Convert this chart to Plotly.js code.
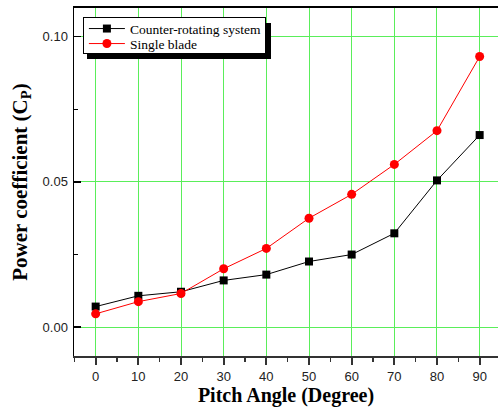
<!DOCTYPE html>
<html>
<head>
<meta charset="utf-8">
<script src="https://cdn.plot.ly/plotly-3.0.1.min.js"></script>
<style>html,body{margin:0;padding:0;background:#fff;overflow:hidden}#chart{width:498px;height:407px}</style>
</head>
<body>
<div id="chart"></div>
<script>
const pitchAngle = [0, 10, 20, 30, 40, 50, 60, 70, 80, 90];
const counterRotating = [0.0071, 0.0108, 0.0122, 0.0161, 0.0181, 0.0226, 0.0250, 0.0323, 0.0505, 0.0661];
const singleBlade = [0.0046, 0.0088, 0.0116, 0.0201, 0.0271, 0.0375, 0.0457, 0.0560, 0.0676, 0.0931];
const seriesNames = ["Counter-rotating system", "Single blade"];

const grid = 'rgb(90,238,90)';
const traces = [
  {x: pitchAngle, y: counterRotating, name: seriesNames[0], type: 'scatter', mode: 'lines+markers',
   line: {color: '#000', width: 1}, marker: {symbol: 'square', size: 8, color: '#000'}},
  {x: pitchAngle, y: singleBlade, name: seriesNames[1], type: 'scatter', mode: 'lines+markers',
   line: {color: '#ff0000', width: 1}, marker: {symbol: 'circle', size: 9, color: '#ff0000'}}
];

const layout = {
  width: 498, height: 407,
  margin: {l: 74, r: 0, t: 8, b: 51, pad: 0},
  paper_bgcolor: '#fff', plot_bgcolor: '#fff',
  showlegend: true,
  legend: {x: 0.021, y: 0.974, xanchor: 'left', yanchor: 'top', bgcolor: '#fff', bordercolor: '#000', borderwidth: 1,
           font: {family: 'Liberation Serif, Times New Roman, serif', size: 13.5, color: '#000'}, tracegroupgap: 0, itemwidth: 36},
  shapes: [
    {type: 'rect', xref: 'paper', yref: 'paper', x0: (87-74)/424, x1: (271-74)/424, y0: (356-59)/348, y1: (356-23)/348,
     fillcolor: '#000', line: {width: 0}, layer: 'above'}
  ],
  xaxis: {
    range: [-5.08, 94.3], tickmode: 'linear', tick0: 0, dtick: 10,
    showgrid: true, gridcolor: grid, gridwidth: 1, zeroline: false,
    showline: true, linecolor: '#333', linewidth: 2, mirror: false,
    ticks: 'outside', ticklen: 7, tickwidth: 2, tickcolor: '#333',
    minor: {dtick: 5, tick0: 0, ticks: 'outside', ticklen: 4, tickwidth: 1.5, tickcolor: '#333', showgrid: false},
    tickfont: {family: 'Liberation Sans, Arial, sans-serif', size: 13, color: '#222'},
    title: {text: 'Pitch Angle (Degree)', standoff: 9, font: {family: 'Liberation Serif, Times New Roman, serif', size: 20, color: '#000', weight: 'bold'}}
  },
  xaxis2: {overlaying: 'x', side: 'top', range: [-5.08, 94.3], showline: true, linecolor: '#000', linewidth: 2,
           showticklabels: false, ticks: '', showgrid: false, zeroline: false},
  yaxis: {
    range: [-0.0099, 0.1098], tickmode: 'linear', tick0: 0, dtick: 0.05, tickformat: '.2f',
    showgrid: true, gridcolor: grid, gridwidth: 1, zeroline: false,
    showline: true, linecolor: '#000', linewidth: 1.5,
    ticks: 'inside', ticklen: 7, tickwidth: 1.5, tickcolor: '#000', ticklabelstandoff: 2,
    minor: {dtick: 0.025, tick0: 0, ticks: 'inside', ticklen: 4, tickwidth: 1, tickcolor: '#000', showgrid: false},
    tickfont: {family: 'Liberation Sans, Arial, sans-serif', size: 13, color: '#222'},
    title: {text: 'Power coefficient (C<sub>P</sub>)', standoff: 9, font: {family: 'Liberation Serif, Times New Roman, serif', size: 21, color: '#000', weight: 'bold'}}
  }
};
// invisible trace to activate the top frame line
traces.push({x: [0], y: [0], xaxis: 'x2', yaxis: 'y', showlegend: false, hoverinfo: 'skip', mode: 'markers', marker: {opacity: 0}});

const gd = document.getElementById('chart');
Plotly.newPlot(gd, traces, layout, {displayModeBar: false, staticPlot: true}).then(function () {
  // tighten legend box to match the compact Origin-style legend
  const leg = gd.querySelector('.legend');
  if (!leg) return;
  const items = leg.querySelectorAll('.traces');
  items.forEach(function (el, i) {
    el.setAttribute('transform', 'translate(1,' + (11.5 + i * 15) + ')');
  });
  const bgW = 182, bgH = 36;
  const bg = leg.querySelector('rect.bg');
  if (bg) { bg.setAttribute('width', bgW); bg.setAttribute('height', bgH); }
  gd.querySelectorAll('defs clipPath rect').forEach(function (r) {
    const p = r.parentNode;
    if (p && p.id && p.id.indexOf('legend') >= 0) { r.setAttribute('width', bgW); r.setAttribute('height', bgH); }
  });
});
</script>
</body>
</html>
